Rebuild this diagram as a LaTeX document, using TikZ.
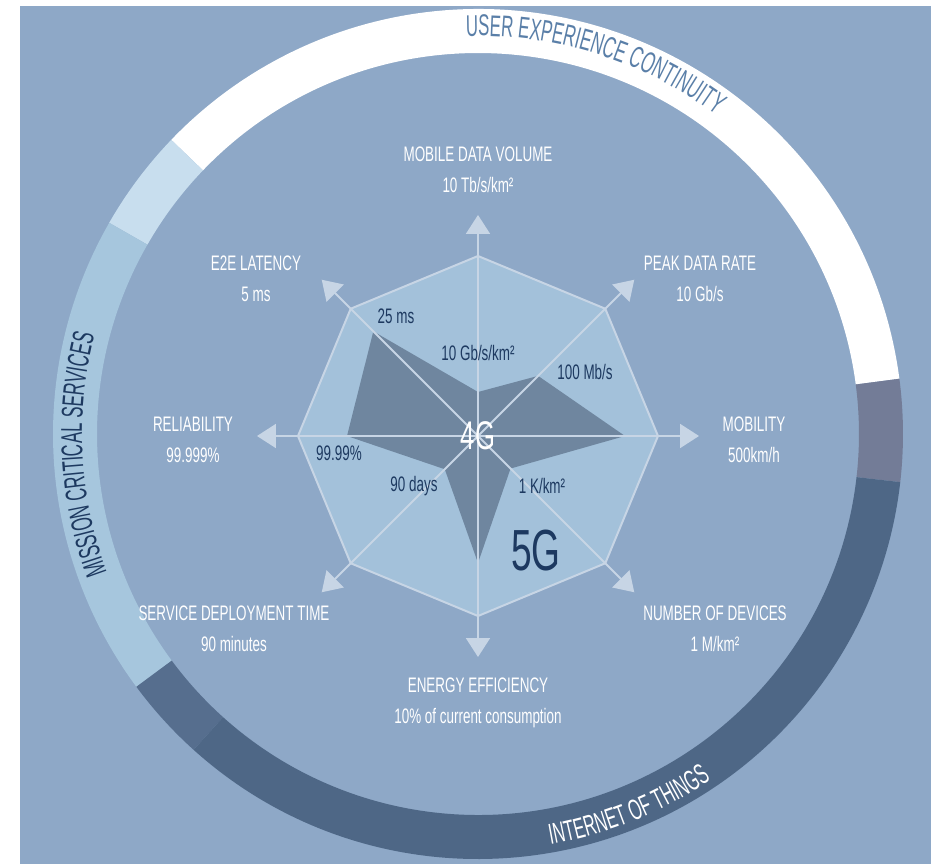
\documentclass[tikz,border=0pt]{standalone}
\usepackage{fontspec}
\setmainfont[FakeStretch=0.64]{Liberation Sans}
\newfontfamily\ringfont[FakeStretch=0.56]{Liberation Sans}
\usetikzlibrary{arrows.meta,decorations.text}

\definecolor{bgblue}{HTML}{8EA8C7}
\definecolor{octfill}{HTML}{A3C1DA}
\definecolor{octline}{HTML}{C7D5E5}
\definecolor{fourg}{HTML}{6F869F}
\definecolor{navy}{HTML}{1D3960}
\definecolor{ringpale}{HTML}{C8DEEE}
\definecolor{ringlight}{HTML}{A6C6DD}
\definecolor{ringmid}{HTML}{566E8E}
\definecolor{ringdark}{HTML}{4E6786}
\definecolor{ringgray}{HTML}{737C97}
\definecolor{ringtext}{HTML}{5A7FA8}

\begin{document}
\begin{tikzpicture}[
    x=1pt, y=1pt,
    axis/.style={draw=octline, line width=2pt, -{Triangle[width=24pt,length=19pt]}},
    lbl/.style={text=white, align=center, font=\fontsize{21}{31}\selectfont},
    val/.style={text=navy, font=\fontsize{21}{25}\selectfont}
]
\useasboundingbox (-478,-428) rectangle (455,436);
\fill[bgblue] (-458,-428) rectangle (453,430);
% Кольцо
\begin{scope}[shift={(0,2)}]
\fill[ringgray] (-6.5:425) arc[start angle=-6.5, end angle=7.5, radius=425]
    -- (7.5:381) arc[start angle=7.5, end angle=-6.5, radius=381] -- cycle;
\fill[white] (7.5:425) arc[start angle=7.5, end angle=136.2, radius=425]
    -- (136.2:381) arc[start angle=136.2, end angle=7.5, radius=381] -- cycle;
\fill[ringpale] (136.2:425) arc[start angle=136.2, end angle=150.2, radius=425]
    -- (150.2:381) arc[start angle=150.2, end angle=136.2, radius=381] -- cycle;
\fill[ringlight] (150.2:425) arc[start angle=150.2, end angle=216.5, radius=425]
    -- (216.5:381) arc[start angle=216.5, end angle=150.2, radius=381] -- cycle;
\fill[ringmid] (216.5:425) arc[start angle=216.5, end angle=228, radius=425]
    -- (228:381) arc[start angle=228, end angle=216.5, radius=381] -- cycle;
\fill[ringdark] (228:425) arc[start angle=228, end angle=353.5, radius=425]
    -- (353.5:381) arc[start angle=353.5, end angle=228, radius=381] -- cycle;
\path[decorate, decoration={text along path, text align=center, text color=ringtext,
    text={|\ringfont\fontsize{30}{36}\selectfont|USER EXPERIENCE CONTINUITY}}]
    (102.5:398) arc[start angle=102.5, end angle=42.5, radius=398];
\path[decorate, decoration={text along path, text align=center, text color=navy,
    text={|\ringfont\fontsize{30}{36}\selectfont|MISSION CRITICAL SERVICES}}]
    (215:396) arc[start angle=215, end angle=151, radius=396];
\path[decorate, decoration={text along path, text align=center, text color=white,
    text={|\ringfont\fontsize{29}{36}\selectfont|INTERNET OF THINGS}}]
    (-98:417) arc[start angle=-98, end angle=-38, radius=417];
\end{scope}
% Диаграмма
\filldraw[fill=octfill, draw=octline, line width=2pt]
    (90:180) -- (45:180) -- (0:180) -- (-45:180) -- (-90:180)
    -- (-135:180) -- (180:180) -- (135:180) -- cycle;
\fill[fourg] (90:44) -- (45:85) -- (0:147) -- (-45:46) -- (-90:127)
    -- (-135:47) -- (180:131) -- (135:148) -- cycle;
\coordinate (c) at (0,0);
\coordinate (tn) at (90:221);
\coordinate (tne) at (45:221);
\coordinate (te) at (0:221);
\coordinate (tse) at (-45:221);
\coordinate (ts) at (-90:221);
\coordinate (tsw) at (-135:221);
\coordinate (tw) at (180:221);
\coordinate (tnw) at (135:221);
\draw[axis] (c) -- (tn);
\draw[axis] (c) -- (tne);
\draw[axis] (c) -- (te);
\draw[axis] (c) -- (tse);
\draw[axis] (c) -- (ts);
\draw[axis] (c) -- (tsw);
\draw[axis] (c) -- (tw);
\draw[axis] (c) -- (tnw);
% Подписи осей
\node[lbl] (mdv) at (0,266) {MOBILE DATA VOLUME\\10 Tb/s/km²};
\node[lbl] (lat) at (-222,157) {E2E LATENCY\\5 ms};
\node[lbl] (peak) at (222,157) {PEAK DATA RATE\\10 Gb/s};
\node[lbl] (rel) at (-285,-4) {RELIABILITY\\99.999\%};
\node[lbl] (mob) at (276,-4) {MOBILITY\\500km/h};
\node[lbl] (sdt) at (-244,-193) {SERVICE DEPLOYMENT TIME\\90 minutes};
\node[lbl] (dev) at (237,-193) {NUMBER OF DEVICES\\1 M/km²};
\node[lbl] (ee) at (0,-266.5) {ENERGY EFFICIENCY\\10\% of current consumption};
% Значения 4G
\node[val] (vlat) at (-82,120) {25 ms};
\node[val] (vmdv) at (0,83) {10 Gb/s/km²};
\node[val] (vpeak) at (107,64) {100 Mb/s};
\node[val] (vrel) at (-139,-17) {99.99\%};
\node[val] (vsdt) at (-64,-50) {90 days};
\node[val] (vdev) at (64,-50) {1 K/km²};
\node[text=white, font=\fontsize{40}{40}\selectfont] (g4) at (c) {4G};
\node[text=navy, font=\fontsize{58}{58}\selectfont] (g5) at (58,-115) {5G};
\end{tikzpicture}
\end{document}
